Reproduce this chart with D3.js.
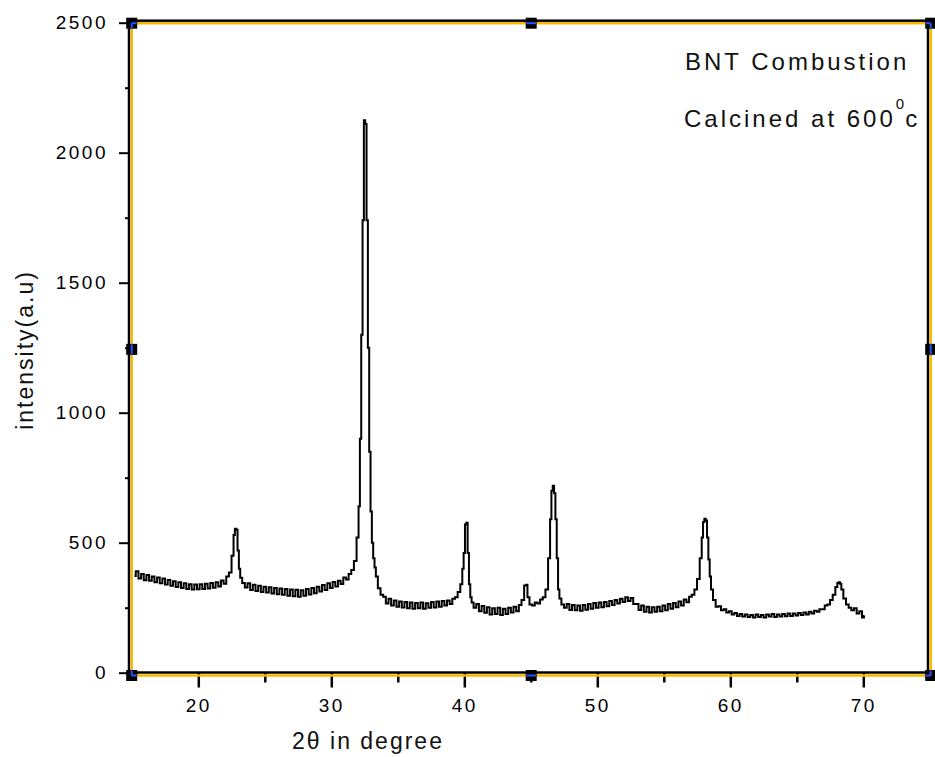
<!DOCTYPE html>
<html>
<head>
<meta charset="utf-8">
<script src="https://cdn.jsdelivr.net/npm/d3@7"></script>
<style>
  body { margin: 0; background: #fff; }
  svg { display: block; }
</style>
</head>
<body>
<div id="chart"></div>
<script>
// 2theta (deg) and intensity
var twoTheta = [15.2,15.4,15.6,15.8,16.0,16.2,16.4,16.6,16.8,17.0,17.2,17.4,17.6,17.8,18.0,18.2,18.4,18.6,18.8,19.0,
  19.2,19.4,19.6,19.8,20.0,20.2,20.4,20.6,20.8,21.0,21.2,21.4,21.6,21.8,22.0,22.2,
  22.4,22.6,22.7,22.8,22.9,23.0,23.1,23.2,23.4,
  23.6,23.8,24.0,24.2,24.4,24.6,24.8,25.0,25.2,25.4,25.6,25.8,26.0,26.2,26.4,26.6,26.8,27.0,27.2,27.4,27.6,27.8,
  28.0,28.2,28.4,28.6,28.8,29.0,29.2,29.4,29.6,29.8,30.0,30.2,30.4,30.6,30.8,31.0,31.2,31.4,31.6,31.8,
  32.0,32.1,32.2,32.3,32.4,32.5,32.6,32.7,32.8,32.9,33.0,33.1,33.2,33.3,33.4,33.6,33.8,
  34.0,34.2,34.4,34.6,34.8,35.0,35.2,35.4,35.6,35.8,36.0,36.2,36.4,36.6,36.8,37.0,37.2,37.4,37.6,37.8,
  38.0,38.2,38.4,38.6,38.8,39.0,39.2,39.4,
  39.6,39.8,39.9,40.0,40.1,40.2,40.3,40.4,40.5,40.6,40.8,
  41.0,41.2,41.4,41.6,41.8,42.0,42.2,42.4,42.6,42.8,43.0,43.2,43.4,43.6,43.8,44.0,44.2,
  44.4,44.6,44.7,44.8,45.0,45.2,45.4,45.6,45.8,46.0,46.2,
  46.4,46.5,46.6,46.7,46.8,46.9,47.0,47.1,47.2,47.4,47.6,47.8,
  48.0,48.2,48.4,48.6,48.8,49.0,49.2,49.4,49.6,49.8,50.0,50.2,50.4,50.6,50.8,51.0,51.2,51.4,51.6,51.8,
  52.0,52.2,52.4,52.6,52.8,53.0,53.2,53.4,53.6,53.8,54.0,54.2,54.4,54.6,54.8,55.0,55.2,55.4,55.6,55.8,
  56.0,56.2,56.4,56.6,56.8,57.0,57.2,57.4,57.6,57.8,57.9,58.0,58.1,58.2,58.3,58.4,58.5,58.6,58.8,
  59.0,59.2,59.4,59.6,59.8,60.0,60.2,60.4,60.6,60.8,61.0,61.2,61.4,61.6,61.8,62.0,62.2,62.4,62.6,62.8,
  63.0,63.2,63.4,63.6,63.8,64.0,64.2,64.4,64.6,64.8,65.0,65.2,65.4,65.6,65.8,66.0,66.2,66.4,66.6,66.8,
  67.0,67.2,67.4,67.6,67.8,68.0,68.1,68.2,68.3,68.4,68.6,68.8,69.0,69.2,69.4,69.6,69.8,70.0,70.1];
var intensity = [372,390,362,380,356,376,354,370,348,366,344,362,339,357,334,352,330,348,326,344,
  322,340,320,339,321,340,322,342,324,345,327,348,332,355,342,370,
  385,450,530,554,550,470,400,365,345,
  328,344,318,338,314,334,310,331,308,329,305,326,302,324,300,322,296,320,294,319,292,317,
  296,322,301,326,306,331,312,337,318,344,326,349,332,354,341,366,358,380,395,430,
  520,640,900,1300,1740,2125,2110,1740,1250,850,620,500,440,405,370,325,300,
  292,266,284,258,278,254,274,251,272,248,270,246,268,248,270,246,267,250,272,251,
  274,254,276,258,278,264,284,290,
  310,340,400,460,570,577,460,340,290,270,250,
  264,236,257,231,252,224,248,226,250,222,246,226,250,232,254,236,260,
  280,335,338,290,262,258,270,266,282,290,320,
  440,590,700,719,690,590,440,320,285,262,250,264,
  241,260,240,258,238,260,242,264,246,268,250,270,252,272,256,276,260,280,266,284,
  272,290,276,287,264,264,241,258,234,254,232,252,234,254,236,258,240,264,246,268,
  252,274,258,282,271,292,300,320,360,440,520,580,592,585,520,435,370,320,280,
  254,256,240,244,232,236,224,230,218,226,216,224,214,222,212,224,214,222,212,224,
  216,226,214,224,216,226,217,228,218,228,220,230,222,232,224,234,228,238,234,244,
  244,258,262,280,300,330,345,348,342,320,285,262,250,240,248,228,236,212,218];

var xTicks = [20, 30, 40, 50, 60, 70];
var xMinorTicks = [25, 35, 45, 55, 65];
var yTicks = [0, 500, 1000, 1500, 2000, 2500];
var yMinorTicks = [250, 750, 1250, 1750, 2250];
var noteLines = ["BNT Combustion", "Calcined at 600"];

var w = 935, h = 757;
var box = {left: 129, top: 20.7, right: 928, bottom: 672.5};

var svg = d3.select("#chart").append("svg")
    .attr("width", w)
    .attr("height", h);

var xScale = d3.scaleLinear().domain([15, 75]).range([131.8, 929.8]);
var yScale = d3.scaleLinear().domain([0, 2500]).range([672.7, 22.7]);

var points = twoTheta.map(function(d, i) { return [d, intensity[i]]; });

var linef = d3.line()
    .curve(d3.curveStep)
    .x(function(d) { return xScale(d[0]); })
    .y(function(d) { return yScale(d[1]); });

svg.append("path")
    .attr("d", linef(points))
    .attr("fill", "none")
    .attr("stroke", "#000")
    .attr("stroke-width", 2);

// axes
var tickFont = "'Liberation Sans', Arial, sans-serif";

var xAxis = svg.append("g")
    .attr("transform", "translate(0," + box.bottom + ")")
    .call(d3.axisBottom(xScale).tickValues(xTicks).tickSize(15).tickPadding(11).tickFormat(d3.format("d")));
xAxis.select(".domain").remove();
xAxis.selectAll("line").attr("stroke-width", 2.5);

var xAxisMinor = svg.append("g")
    .attr("transform", "translate(0," + box.bottom + ")")
    .call(d3.axisBottom(xScale).tickValues(xMinorTicks).tickSize(10).tickFormat(""));
xAxisMinor.select(".domain").remove();
xAxisMinor.selectAll("line").attr("stroke-width", 2.5);

var yAxis = svg.append("g")
    .attr("transform", "translate(" + box.left + ",0)")
    .call(d3.axisLeft(yScale).tickValues(yTicks).tickSize(10).tickPadding(11).tickFormat(d3.format("d")));
yAxis.select(".domain").remove();
yAxis.selectAll("line").attr("stroke-width", 2);

var yAxisMinor = svg.append("g")
    .attr("transform", "translate(" + box.left + ",0)")
    .call(d3.axisLeft(yScale).tickValues(yMinorTicks).tickSize(4).tickFormat(""));
yAxisMinor.select(".domain").remove();
yAxisMinor.selectAll("line").attr("stroke-width", 2);

svg.selectAll(".tick text")
    .attr("font-family", tickFont)
    .attr("font-size", "19px")
    .attr("letter-spacing", "2.5px")
    .attr("fill", "#000");

// frame: black axis box + yellow selection box
svg.append("rect")
    .attr("x", box.left).attr("y", box.top)
    .attr("width", box.right - box.left).attr("height", box.bottom - box.top)
    .attr("fill", "none").attr("stroke", "#000").attr("stroke-width", 2.5);

var sel = {left: 131.7, top: 23.2, right: 930.7, bottom: 675.5};
svg.append("rect")
    .attr("x", sel.left).attr("y", sel.top)
    .attr("width", sel.right - sel.left).attr("height", sel.bottom - sel.top)
    .attr("fill", "none").attr("stroke", "#f7b900").attr("stroke-width", 2.5);

// selection handles
var midX = (sel.left + sel.right) / 2, midY = (sel.top + sel.bottom) / 2;
var handles = [[sel.left, sel.top], [midX, sel.top], [sel.right, sel.top],
               [sel.left, midY], [sel.right, midY],
               [sel.left, sel.bottom], [midX, sel.bottom], [sel.right, sel.bottom]];
handles.forEach(function(p) {
  svg.append("rect")
      .attr("x", p[0] - 5.5).attr("y", p[1] - 5.5)
      .attr("width", 11).attr("height", 11)
      .attr("fill", "#000");
  // blue where the selection line passes through
  if (p[1] === sel.top || p[1] === sel.bottom) {
    var x0 = p[0] === sel.left ? p[0] : p[0] - 5;
    var x1 = p[0] === sel.right ? p[0] : p[0] + 5;
    svg.append("line").attr("x1", x0).attr("x2", x1).attr("y1", p[1]).attr("y2", p[1])
        .attr("stroke", "#2255ff").attr("stroke-width", 2);
  }
  if (p[0] === sel.left || p[0] === sel.right) {
    var y0 = p[1] === sel.top ? p[1] : p[1] - 5;
    var y1 = p[1] === sel.bottom ? p[1] : p[1] + 5;
    svg.append("line").attr("x1", p[0]).attr("x2", p[0]).attr("y1", y0).attr("y2", y1)
        .attr("stroke", "#2255ff").attr("stroke-width", 2);
  }
});

// axis titles
svg.append("text")
    .attr("x", 368).attr("y", 749)
    .attr("text-anchor", "middle")
    .attr("font-family", tickFont)
    .attr("font-size", "23px")
    .attr("letter-spacing", "2px")
    .attr("fill", "#111")
    .text("2θ in degree");

svg.append("text")
    .attr("transform", "translate(33,350) rotate(-90)")
    .attr("text-anchor", "middle")
    .attr("font-family", tickFont)
    .attr("font-size", "23px")
    .attr("letter-spacing", "2px")
    .attr("fill", "#111")
    .text("intensity(a.u)");

// annotation
svg.append("text")
    .attr("x", 685).attr("y", 70)
    .attr("font-family", tickFont)
    .attr("font-size", "24px")
    .attr("letter-spacing", "3px")
    .attr("fill", "#111")
    .text(noteLines[0]);

var note2 = svg.append("text")
    .attr("x", 684).attr("y", 127)
    .attr("font-family", tickFont)
    .attr("font-size", "24px")
    .attr("letter-spacing", "3px")
    .attr("fill", "#111");
note2.append("tspan").text(noteLines[1]);
note2.append("tspan").attr("dy", -18).attr("font-size", "15px").attr("letter-spacing", "0px").text("0");
note2.append("tspan").attr("dy", 18).attr("dx", 1).text("c");
</script>
</body>
</html>
